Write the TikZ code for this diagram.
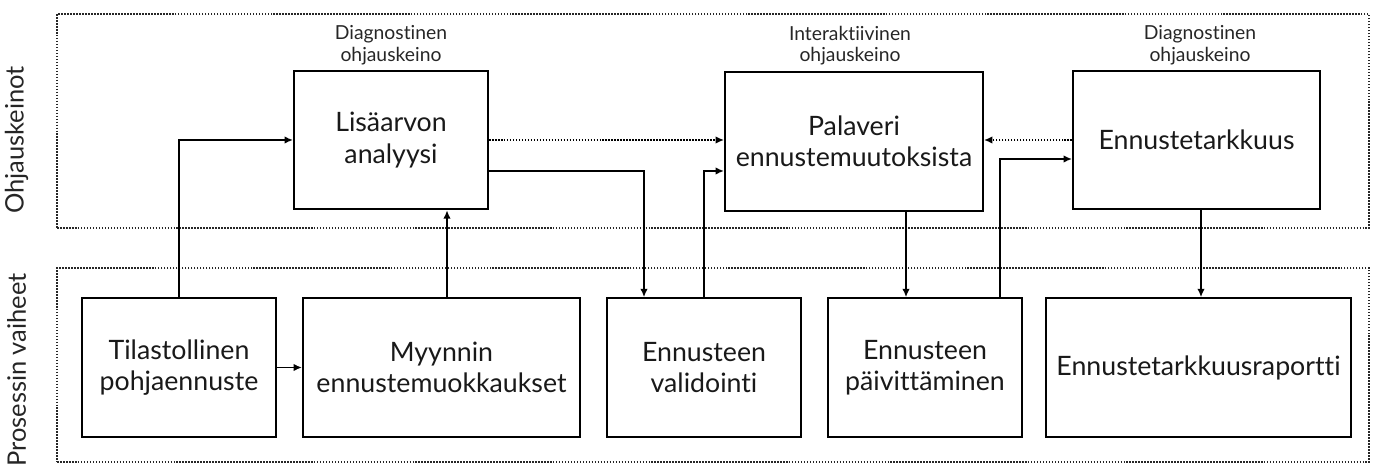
\documentclass[tikz,border=0pt]{standalone}
\usepackage{fontspec}
\setmainfont[Ligatures=NoCommon]{Lato}
\usetikzlibrary{calc, arrows.meta}
\tikzset{
	myblockbox/.style={rectangle, draw=black, line width=1.1pt, inner sep=0.1cm, text centered, align=center,
				minimum height=2.77cm, font=\fontsize{15.2}{17.8}\selectfont, text=black!90
				},
	myframe/.style={rectangle, draw=black!85, line width=0.9pt, dash pattern=on 0.9pt off 0.8pt
				},
	myarrow/.style={-{Latex[length=1.7mm, width=1.5mm]}, black, line width=1.1pt
				},
	mydottedarrow/.style={-{Latex[length=1.7mm, width=1.5mm]}, black, line width=0.9pt, dash pattern=on 0.9pt off 0.8pt
				},
	mylabeltype/.style={anchor=south, inner sep=0mm, align=center, font=\fontsize{11}{12.2}\selectfont, text=black!85
				},
	mysidelabel/.style={rotate=90, inner sep=0mm, font=\fontsize{14.5}{17}\selectfont, text=black!85
				}
	}

\begin{document}
\begin{tikzpicture}

				\useasboundingbox (0,0) rectangle (27.54,9.38);

				% frames and side titles
				\node[myframe, minimum width=26.24cm, minimum height=4.28cm] (frameup) at (14.26, 6.96) {};
				\node[myframe, minimum width=26.24cm, minimum height=3.88cm] (framedown) at (14.26, 2.08) {};

				\node[mysidelabel] (sideup) at (0.33, 6.58) {Ohjauskeinot};
				\node[mysidelabel] (sidedown) at (0.33, 1.98) {Prosessin vaiheet};

				% process steps
				\node[myblockbox, minimum width=3.88cm] (tilasto) at (3.58, 2.03) {Tilastollinen\\pohjaennuste};

				\node[myblockbox, minimum width=5.54cm] (myynti) at ($(tilasto) + (5.25, 0)$) {Myynnin\\ennustemuokkaukset};

				\node[myblockbox, minimum width=3.88cm] (valid) at ($(tilasto) + (10.50, 0)$) {Ennusteen\\validointi};

				\node[myblockbox, minimum width=3.88cm] (paivit) at ($(valid) + (4.42, 0)$) {Ennusteen\\päivittäminen};

				\node[myblockbox, minimum width=6.10cm] (raportti) at ($(paivit) + (5.47, 0)$) {Ennustetarkkuusraportti};

				% control mechanisms
				\node[myblockbox, minimum width=3.88cm] (lisa) at (7.82, 6.58) {Lisäarvon\\analyysi};

				\node[myblockbox, minimum width=5.16cm] (pal) at ($(lisa) + (9.26, -0.03)$) {Palaveri\\ennustemuutoksista};

				\node[myblockbox, minimum width=4.94cm] (tark) at ($(lisa) + (16.11, 0)$) {Ennustetarkkuus};

				\node[mylabeltype] (lisat) at ($(lisa.north) + (0, 0.09)$) {Diagnostinen\\ohjauskeino};
				\node[mylabeltype] (palt) at ($(pal.north) + (-0.08, 0.11)$) {Interaktiivinen\\ohjauskeino};
				\node[mylabeltype] (tarkt) at ($(tark.north) + (0.07, 0.09)$) {Diagnostinen\\ohjauskeino};

				% connectors
				\draw[myarrow] (tilasto.north) |- (lisa.west);

				\draw[myarrow] (tilasto.east) -- (myynti.west);

				\draw[myarrow] ($(myynti.north) + (0.11, 0)$) -- ($(lisa.south) + (1.12, 0)$);

				\draw[myarrow] ($(lisa.east) + (0, -0.62)$) -| ($(valid.north) + (-1.2, 0)$);

				\draw[mydottedarrow] (lisa.east) -- (lisa.east -| pal.west);

				\draw[myarrow] (valid.north) |- ($(pal.west) + (0, -0.59)$);

				\draw[myarrow] ($(pal.south) + (1.04, 0)$) -- ($(paivit.north) + (-0.38, 0)$);

				\draw[myarrow] ($(paivit.north) + (1.5, 0)$) |- ($(tark.west) + (0, -0.38)$);

				\draw[mydottedarrow] (tark.west) -- (tark.west -| pal.east);

				\coordinate (tarkout) at ($(tark.south) + (0.09, 0)$);
				\draw[myarrow] (tarkout) -- (tarkout |- raportti.north);

\end{tikzpicture}
\end{document}
